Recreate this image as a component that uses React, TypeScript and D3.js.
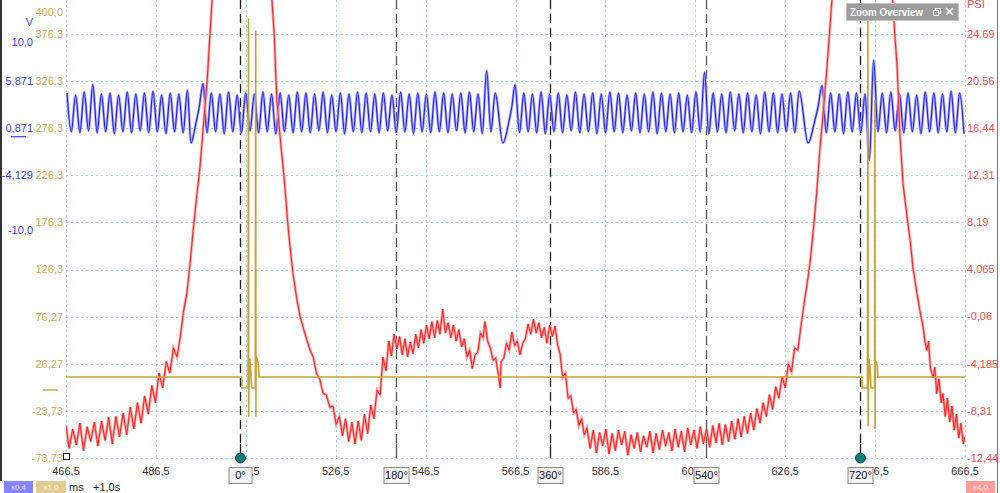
import React from 'react';
import * as d3 from 'd3';

// ---------- axis ticks ----------
const xTicks = [466.5, 486.5, 506.5, 526.5, 546.5, 566.5, 586.5, 606.5, 626.5, 646.5, 666.5];
const xTickLabels = ['466,5', '486,5', '506,5', '526,5', '546,5', '566,5', '586,5', '606,5', '626,5', '646,5', '666,5'];
const goldTicks = [400.0, 376.3, 326.3, 276.3, 226.3, 176.3, 126.3, 76.27, 26.27, -23.73, -73.73];
const goldTickLabels = ['400,0', '376,3', '326,3', '276,3', '226,3', '176,3', '126,3', '76,27', '26,27', '-23,73', '-73,73'];
const blueTicks = [10.0, 5.871, 0.871, -4.129, -10.0];
const blueTickLabels = ['10,0', '5,871', '0,871', '-4,129', '-10,0'];
const redTicks = [24.69, 20.56, 16.44, 12.31, 8.19, 4.065, -0.06, -4.185, -8.31, -12.44];
const redTickLabels = ['24,69', '20,56', '16,44', '12,31', '8,19', '4,065', '-0,06', '-4,185', '-8,31', '-12,44'];

// ---------- cursors ----------
const cursorMs = [505.2, 539.9, 574.2, 608.9, 643.1];
const cursorLabels = ['0°', '180°', '360°', '540°', '720°'];
const cursorMajor = [true, false, true, false, true];

// ---------- red trace (ms, PSI) ----------
const redData: [number, number][] = [
  [466.5, -9.6], [467.2, -11.6], [468.0, -9.9], [468.8, -11.3], [469.6, -9.4], [470.4, -11.8], [471.2, -9.7], [472.0, -11.0],
  [472.8, -9.3], [473.6, -11.4], [474.4, -9.2], [475.2, -10.9], [476.0, -8.9], [476.8, -11.2], [477.6, -8.8], [478.4, -10.6],
  [479.2, -8.5], [480.0, -10.4], [480.8, -8.0], [481.6, -9.9], [482.4, -7.6], [483.2, -9.4], [484.0, -7.0], [484.8, -8.6],
  [485.6, -6.1], [486.4, -7.6], [487.2, -5.0], [488.0, -6.3], [488.8, -4.0], [489.6, -5.0], [490.4, -2.8], [491.2, -3.6],
  [491.9, -1.9], [492.6, 0.3], [493.4, 2.0], [494.1, 4.6], [494.8, 7.5], [495.5, 10.2], [496.3, 13.0], [497.1, 16.8],
  [497.9, 20.6], [499.0, 27.7], [505.6, 46.0], [512.3, 27.7], [512.8, 24.8], [513.4, 18.9], [514.1, 15.8], [514.8, 13.0],
  [515.3, 10.8], [515.7, 8.7], [516.3, 6.2], [517.0, 3.7], [517.8, 1.6], [518.6, -0.1], [519.4, -1.2], [520.0, -2.0],
  [520.8, -3.0], [521.5, -3.6], [522.2, -5.0], [523.0, -5.6], [523.7, -6.8], [524.4, -6.9], [525.2, -8.0], [525.9, -7.9],
  [526.6, -9.5], [527.3, -8.8], [528.0, -10.5], [528.7, -9.0], [529.4, -11.0], [530.1, -9.3], [530.8, -11.2], [531.5, -9.2],
  [532.2, -10.9], [532.9, -8.6], [533.6, -10.3], [534.3, -7.8], [535.0, -9.0], [535.7, -6.5], [536.4, -6.9], [537.0, -3.6],
  [537.7, -4.8], [538.3, -2.2], [538.9, -3.5], [539.5, -1.6], [540.1, -2.9], [540.7, -1.8], [541.3, -3.4], [541.9, -2.0],
  [542.5, -3.6], [543.1, -2.3], [543.7, -3.3], [544.3, -1.6], [544.9, -2.8], [545.5, -1.2], [546.1, -2.4], [546.7, -0.8],
  [547.3, -2.0], [547.9, -0.5], [548.5, -1.9], [549.1, -0.4], [549.7, -1.6], [550.3, 0.6], [550.9, -1.5], [551.5, -0.6],
  [552.1, -1.9], [552.7, -0.8], [553.3, -2.2], [553.9, -1.2], [554.5, -2.7], [555.1, -2.0], [555.7, -3.6], [556.3, -3.0],
  [556.9, -4.6], [557.5, -3.4], [558.1, -3.2], [558.7, -1.5], [559.3, -1.9], [559.7, -0.5], [560.3, -2.2], [560.9, -2.8],
  [561.5, -3.9], [562.1, -3.7], [562.7, -5.2], [563.1, -6.3], [563.3, -4.0], [563.9, -3.7], [564.5, -2.4], [565.1, -3.0],
  [565.7, -1.4], [566.3, -2.6], [566.9, -2.2], [567.5, -3.4], [568.1, -2.4], [568.7, -2.0], [569.3, -0.7], [569.9, -1.6],
  [570.5, -0.3], [571.1, -1.5], [571.7, -0.6], [572.3, -1.9], [572.9, -1.0], [573.5, -2.4], [574.1, -0.8], [574.7, -1.8],
  [575.3, -0.9], [575.9, -2.6], [576.4, -3.3], [577.0, -5.4], [577.6, -5.0], [578.2, -7.2], [578.8, -7.0], [579.4, -8.5],
  [580.0, -8.2], [580.6, -9.6], [581.2, -9.0], [581.8, -10.4], [582.4, -9.8], [583.1, -11.6], [583.8, -10.0], [584.5, -12.0],
  [585.2, -10.2], [585.9, -11.4], [586.6, -9.9], [587.3, -12.1], [588.0, -10.3], [588.7, -11.8], [589.4, -10.0], [590.1, -11.3],
  [590.8, -10.1], [591.5, -12.2], [592.2, -10.4], [592.9, -11.6], [593.6, -10.2], [594.3, -11.9], [595.0, -10.5], [595.7, -11.5],
  [596.4, -10.1], [597.1, -12.0], [597.8, -10.3], [598.5, -11.7], [599.2, -10.0], [599.9, -11.4], [600.6, -10.2], [601.3, -11.8],
  [602.0, -9.9], [602.7, -11.5], [603.4, -10.1], [604.1, -11.9], [604.8, -9.8], [605.5, -11.3], [606.2, -10.0], [606.9, -11.6],
  [607.6, -9.7], [608.3, -11.2], [609.0, -9.9], [609.7, -11.5], [610.4, -9.6], [611.1, -11.1], [611.8, -9.4], [612.5, -11.3],
  [613.2, -9.5], [613.9, -11.0], [614.6, -9.2], [615.3, -10.8], [616.0, -9.0], [616.7, -10.6], [617.4, -8.8], [618.1, -10.3],
  [618.8, -8.5], [619.5, -10.0], [620.2, -8.1], [620.9, -9.4], [621.6, -7.6], [622.3, -8.8], [623.0, -6.9], [623.7, -8.2],
  [624.4, -6.2], [625.1, -7.2], [625.8, -5.3], [626.5, -6.3], [627.2, -4.2], [627.9, -4.9], [628.6, -2.8], [629.3, -3.0],
  [629.8, -1.5], [630.6, 0.8], [631.4, 2.9], [632.0, 4.6], [632.7, 7.3], [633.5, 10.8], [634.2, 14.5], [635.0, 18.0],
  [635.8, 21.8], [636.9, 27.7], [643.6, 46.0], [650.4, 27.7], [650.9, 24.5], [651.4, 21.8], [652.0, 16.0], [652.7, 11.6],
  [653.6, 8.7], [654.3, 6.6], [654.9, 4.3], [655.8, 2.0], [656.5, 0.4], [657.2, -1.0], [657.6, -2.3], [658.0, -3.0],
  [658.4, -2.2], [658.8, -4.6], [659.4, -5.4], [659.8, -4.5], [660.2, -6.8], [660.7, -5.5], [661.2, -7.6], [661.6, -6.8],
  [662.1, -8.8], [662.6, -7.2], [663.1, -9.3], [663.6, -7.9], [664.1, -10.0], [664.6, -8.6], [665.1, -10.7], [665.6, -9.4],
  [666.1, -11.2], [666.5, -10.6],
];

// ---------- blue trace (V): alternating extrema, sampled every half period ----------
const blueHalfPeriodMs = 0.957;
const blueA = [4.6, 0.5, 4.4, 0.4, 4.7, 0.6, 5.5, 0.4, 4.5, 0.5, 4.6, 0.3, 4.4, 0.5, 4.7, 0.4, 4.5, 0.6, 4.6, 0.4, 4.8, 0.5, 4.4, 0.3, 4.6, 0.5, 4.5, 0.4, 4.9];
const blueGlitch1: [number, number][] = [[494.3, -0.7], [495.4, 1.4], [496.1, 3.0], [497.0, 5.6]];
const blueB = [
  0.4, 4.6, 0.5, 4.5, 0.3, 4.7, 0.5, 4.4, 0.4, 4.6, 0.6, 4.5, 0.4, 4.7, 0.5, 4.5, 0.3, 4.6, 0.5, 4.4,
  0.4, 4.7, 0.5, 4.6, 0.4, 4.5, 0.6, 4.7, 0.4, 4.4, 0.5, 4.6, 0.3, 4.5, 0.5, 4.7, 0.4, 4.6, 0.5, 4.5,
  0.4, 4.6, 0.6, 4.4, 0.4, 4.7, 0.5, 4.5, 0.3, 4.6, 0.5, 4.5, 0.4, 4.7, 0.5, 4.6, 0.4, 4.5, 0.6, 4.6,
  0.4, 4.7, 0.5, 4.5, 0.3, 7.0, 0.5, 4.6,
];
const blueGlitch2: [number, number][] = [[563.7, -0.7], [565.05, 1.6], [565.7, 3.2], [566.4, 5.5]];
const blueC = [
  0.4, 4.6, 0.5, 4.5, 0.4, 4.7, 0.3, 4.5, 0.5, 4.6, 0.4, 4.4, 0.6, 4.7, 0.4, 4.5, 0.5, 4.6, 0.3, 4.5,
  0.4, 4.7, 0.5, 4.6, 0.4, 4.4, 0.6, 4.6, 0.4, 4.5, 0.5, 4.7, 0.3, 4.6, 0.5, 4.5, 0.4, 4.6, 0.5, 4.4,
  0.4, 4.7, 0.5, 6.8, 0.3, 4.6, 0.5, 4.5, 0.4, 4.7, 0.6, 4.5, 0.4, 4.6, 0.5, 4.4, 0.3, 4.7, 0.5, 4.6,
  0.4, 4.5, 0.5, 4.6, 0.4, 4.8,
];
const blueGlitch3: [number, number][] = [[631.6, -0.7], [633.0, 1.5], [633.8, 3.1], [634.7, 5.4]];
const blueD = [
  0.4, 4.6, 0.5, 4.5, 0.3, 4.7, 0.5, 4.6, 0.4, 4.5, -2.5, 8.1, 0.5, 4.6, 0.4, 4.7, 0.6, 4.5, 0.4, 4.6,
  0.5, 4.4, 0.3, 4.7, 0.5, 4.6, 0.4, 4.5, 0.5, 4.8, 0.4, 4.6, 0.3,
];
const blueStarts = [466.72, 497.87, 567.4, 635.65];

// ---------- gold trace ----------
const goldData: [number, number][] = [
  [466.5, 12.3], [505.6, 12.3], [505.65, 0.6], [507.0, 0.6], [507.1, 393], [507.15, -30], [507.2, 0.6], [507.4, 32],
  [507.6, 20], [507.8, 0.6], [508.6, 0.6], [508.7, 380], [508.75, -30], [508.8, 34], [509.1, 30], [509.3, 26],
  [509.45, 12.3], [643.6, 12.3], [643.65, 0.6], [644.8, 0.6], [644.9, 405], [644.95, -40], [645.0, 0.6], [645.2, 32],
  [645.4, 20], [645.6, 0.6], [646.4, 0.6], [646.45, 306], [646.5, -43], [646.55, 30], [646.8, 28], [647.0, 24],
  [647.1, 12.3], [666.5, 12.3],
];

const FONT = '"Liberation Sans", Arial, sans-serif';

export default function App() {
  const W = 1000, H = 493;
  const x = d3.scaleLinear().domain([466.5, 666.5]).range([66, 965]);
  const yGold = d3.scaleLinear().domain([-73.73, 376.3]).range([458, 34]);
  const yRed = d3.scaleLinear().domain([-12.44, 24.69]).range([yGold(-73.73), yGold(376.3)]);
  const yBlue = d3.scaleLinear().domain([-4.129, 5.871]).range([yGold(226.3), yGold(326.3)]);

  const seg = (t0: number, vals: number[]) => vals.map((v, i) => [t0 + i * blueHalfPeriodMs, v] as [number, number]);
  const bluePts: [number, number][] = [
    ...seg(blueStarts[0], blueA), ...blueGlitch1,
    ...seg(blueStarts[1], blueB), ...blueGlitch2,
    ...seg(blueStarts[2], blueC), ...blueGlitch3,
    ...seg(blueStarts[3], blueD),
  ];

  const redLine = d3.line<[number, number]>().x(d => x(d[0])).y(d => yRed(d[1]));
  const blueLine = d3.line<[number, number]>().x(d => x(d[0])).y(d => yBlue(d[1])).curve(d3.curveMonotoneX);
  const goldLine = d3.line<[number, number]>().x(d => x(d[0])).y(d => yGold(d[1]));

  const x0 = x(466.5), x1 = x(666.5), yBot = yGold(-73.73);
  const gridColor = '#9ed3e6';

  return (
    <svg width={W} height={H} style={{ position: 'absolute', left: 0, top: 0, fontFamily: FONT }}>
      <defs>
        <clipPath id="plot"><rect x={x0} y={0} width={x1 - x0} height={yBot} /></clipPath>
      </defs>
      <rect x={0} y={0} width={W} height={H} fill="#fff" />

      {/* grid */}
      {goldTicks.slice(1).map((t, i) => (
        <line key={'h' + i} x1={x0} x2={x1} y1={Math.round(yGold(t)) + 0.5} y2={Math.round(yGold(t)) + 0.5}
          stroke={gridColor} strokeDasharray="2,3" />
      ))}
      {xTicks.map((t, i) => (
        <line key={'v' + i} x1={Math.round(x(t)) + 0.5} x2={Math.round(x(t)) + 0.5} y1={0} y2={yBot}
          stroke={gridColor} strokeDasharray="2,3" />
      ))}

      {/* cursors */}
      {cursorMs.map((c, i) => {
        const cx = Math.round(x(c)) + 0.5;
        const col = cursorMajor[i] ? '#1a1a1a' : '#555';
        return (
          <g key={'c' + i}>
            <line x1={cx} x2={cx} y1={0} y2={444} stroke={col} strokeWidth={1.3} strokeDasharray="9,5" />
            <line x1={cx} x2={cx} y1={444} y2={yBot} stroke={col} strokeWidth={1.3} />
          </g>
        );
      })}

      {/* traces */}
      <g clipPath="url(#plot)">
        <path d={blueLine(bluePts) || ''} fill="none" stroke="#a6a6ff" strokeWidth={2.6} />
        <path d={blueLine(bluePts) || ''} fill="none" stroke="#1c1cf0" strokeWidth={1.1} />
        <path d={redLine(redData) || ''} fill="none" stroke="#ff9b9b" strokeWidth={2.6} />
        <path d={redLine(redData) || ''} fill="none" stroke="#ff1c1c" strokeWidth={1} />
        <path d={goldLine(goldData) || ''} fill="none" stroke="#c9a232" strokeWidth={1.6} />
      </g>

      {/* left gold axis labels */}
      {goldTicks.map((t, i) => (
        <text key={'g' + i} x={63} y={yGold(t)} dy="0.35em" textAnchor="end" fontSize={11} fill="#d2aa55">
          {goldTickLabels[i]}
        </text>
      ))}
      {/* blue axis labels */}
      <text x={33} y={22} dy="0.35em" textAnchor="end" fontSize={11} fill="#3a3aff">V</text>
      {blueTicks.map((t, i) => (
        <text key={'b' + i} x={33} y={yBlue(t)} dy="0.35em" textAnchor="end" fontSize={11} fill="#3a3aff">
          {blueTickLabels[i]}
        </text>
      ))}
      <line x1={11} x2={26} y1={yBlue(0.871) + 8.5} y2={yBlue(0.871) + 8.5} stroke="#3a3aff" strokeWidth={1.2} />
      <line x1={43} x2={58} y1={yGold(0.6) + 2} y2={yGold(0.6) + 2} stroke="#d8bd70" strokeWidth={2} />

      {/* right red axis labels */}
      <text x={967} y={4} dy="0.35em" fontSize={11} fill="#ff4a4a">PSI</text>
      {redTicks.map((t, i) => (
        <text key={'r' + i} x={967} y={yRed(t)} dy="0.35em" fontSize={11} fill="#ff4a4a">
          {redTickLabels[i]}
        </text>
      ))}

      {/* bottom x labels */}
      {xTicks.map((t, i) => (
        <text key={'x' + i} x={x(t)} y={471} dy="0.35em" textAnchor="middle" fontSize={11} fill="#333">
          {xTickLabels[i]}
        </text>
      ))}

      {/* origin square */}
      <rect x={63.5} y={453.5} width={6} height={6} fill="#fff" stroke="#111" strokeWidth={1} />

      {/* cursor markers */}
      {cursorMs.map((c, i) => {
        const cx = Math.round(x(c)) + 0.5;
        const w = cursorLabels[i].length > 2 ? 25 : 23;
        return (
          <g key={'cl' + i}>
            {(i === 0 || i === 4) && (
              <circle cx={cx} cy={yBot} r={5} fill="#127a78" stroke="#0b4d4c" strokeWidth={1} />
            )}
            <rect x={cx - w / 2} y={467.5} width={w} height={16} fill="#f3f3f3" stroke="#8a8a8a" />
            <text x={cx} y={475.5} dy="0.35em" textAnchor="middle" fontSize={11} fill="#111">{cursorLabels[i]}</text>
          </g>
        );
      })}

      {/* Zoom overview box */}
      <rect x={846.5} y={3.5} width={112} height={17} fill="#9c9c9c" stroke="#c4c4c4" />
      <text x={850} y={12} dy="0.35em" fontSize={10.5} fontWeight="bold" fill="#fff" textLength={73} lengthAdjust="spacingAndGlyphs">Zoom Overview</text>
      <rect x={935.5} y={8.5} width={5} height={5} fill="none" stroke="#fff" />
      <rect x={933.5} y={10.5} width={5} height={5} fill="#9c9c9c" stroke="#fff" />
      <line x1={946} y1={8} x2={953} y2={15} stroke="#fff" strokeWidth={1.6} />
      <line x1={953} y1={8} x2={946} y2={15} stroke="#fff" strokeWidth={1.6} />

      {/* bottom bar */}
      <rect x={4} y={481} width={29} height={12} fill="#8585ff" />
      <text x={18.5} y={487} dy="0.35em" textAnchor="middle" fontSize={8} fill="#e8e8ff">x0,4</text>
      <rect x={36} y={481} width={30} height={12} fill="#e0cc92" />
      <text x={51} y={487} dy="0.35em" textAnchor="middle" fontSize={8} fill="#fff8e0">x1,0</text>
      <text x={69} y={487} dy="0.35em" fontSize={11} fill="#222">ms</text>
      <text x={93} y={487} dy="0.35em" fontSize={11} fill="#222">+1,0s</text>
      <rect x={966} y={481} width={29} height={12} fill="#ff9c9c" />
      <text x={980.5} y={487} dy="0.35em" textAnchor="middle" fontSize={8} fill="#fff0f0">x4,0</text>

      {/* frame edges */}
      <rect x={0} y={0} width={2} height={481} fill="#333" />
      <line x1={997.5} x2={997.5} y1={0} y2={H} stroke="#777" />
    </svg>
  );
}
